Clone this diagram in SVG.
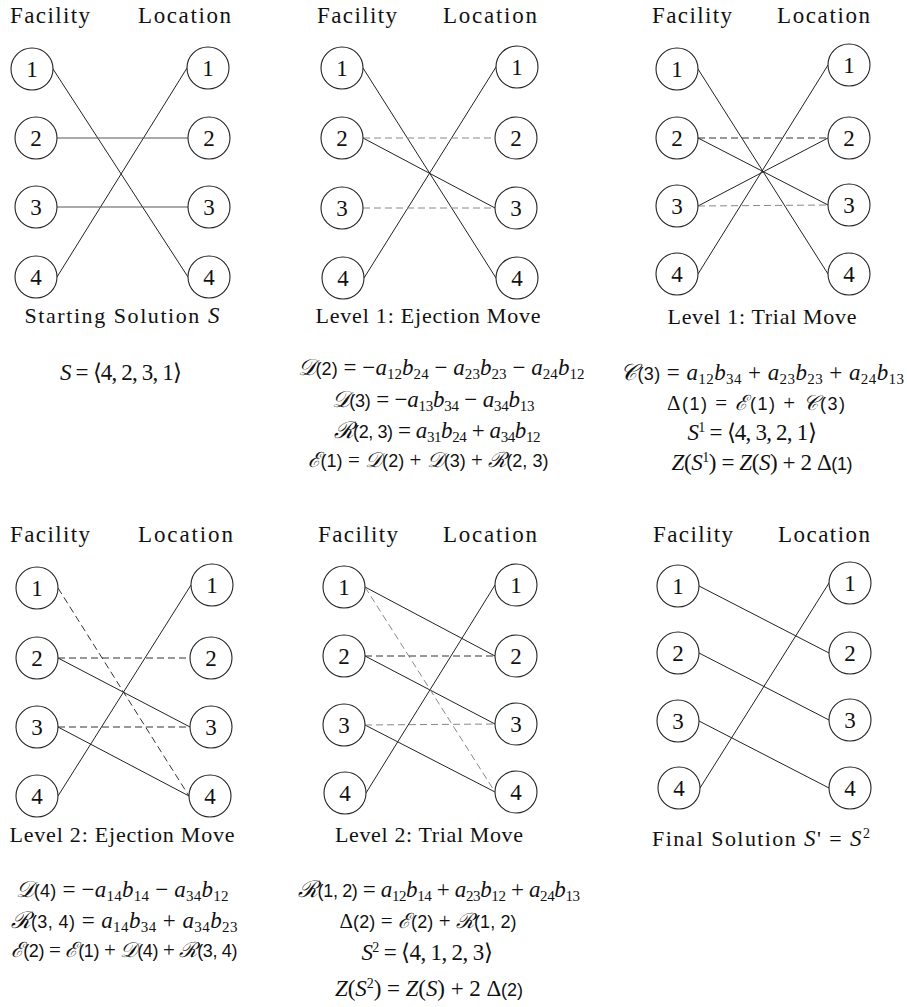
<svg xmlns="http://www.w3.org/2000/svg" width="907" height="1007" viewBox="0 0 907 1007">
<style>
.node circle{fill:#fff;stroke:#222;stroke-width:1.1}
.node text{font-family:"Liberation Serif",serif;font-size:23px;text-anchor:middle;fill:#111}
.hdr{font-family:"Liberation Serif",serif;font-size:23px;fill:#111}
.ttl{font-family:"Liberation Serif",serif;font-size:22px;fill:#111;text-anchor:middle}
.e{stroke:#222;stroke-width:1;fill:none}
.eg{stroke:#555;stroke-width:1;fill:none}
.d{stroke:#333;stroke-width:1;stroke-dasharray:7 4;fill:none}
.dg{stroke:#888;stroke-width:1;stroke-dasharray:7 4;fill:none}
.m{font-family:"Liberation Serif",serif;font-size:23px;fill:#111;text-anchor:middle}
.mc{font-size:21px}
.i{font-family:"Liberation Serif",serif;font-style:italic}
.sb{font-size:15px}
.sp{font-size:14px}
.ar{font-family:"Liberation Sans",sans-serif;font-size:18px}
.cal{font-style:italic}
</style>
<rect width="907" height="1007" fill="#fff"/>

<g id="connectors">
 <g id="c-p1">
  <line class="e" x1="53" y1="69" x2="188" y2="277"/>
  <line class="e" x1="57" y1="277" x2="187" y2="68"/>
  <line class="eg" x1="57" y1="138" x2="188" y2="138"/>
  <line class="eg" x1="57" y1="207" x2="188" y2="207"/>
 </g>
 <g id="c-p2">
  <line class="e" x1="363" y1="68" x2="496" y2="278"/>
  <line class="e" x1="364" y1="278" x2="496" y2="67"/>
  <line class="e" x1="363" y1="138" x2="495" y2="208"/>
  <line class="dg" x1="363" y1="138" x2="495" y2="138"/>
  <line class="dg" x1="363" y1="208" x2="495" y2="208"/>
 </g>
 <g id="c-p3">
  <line class="e" x1="698" y1="69" x2="828" y2="274"/>
  <line class="e" x1="698" y1="274" x2="828" y2="65"/>
  <line class="e" x1="698" y1="138" x2="828" y2="205"/>
  <line class="e" x1="698" y1="206" x2="828" y2="138"/>
  <line class="d" x1="698" y1="138" x2="828" y2="138"/>
  <line class="dg" x1="698" y1="206" x2="828" y2="205"/>
 </g>
 <g id="c-p4">
  <line class="e" x1="58" y1="796" x2="191" y2="585"/>
  <line class="e" x1="58" y1="658" x2="190" y2="727"/>
  <line class="e" x1="58" y1="727" x2="189" y2="796"/>
  <line class="d" x1="58" y1="588" x2="189" y2="796"/>
  <line class="d" x1="58" y1="658" x2="190" y2="658"/>
  <line class="d" x1="58" y1="727" x2="190" y2="727"/>
 </g>
 <g id="c-p5">
  <line class="e" x1="365" y1="587" x2="495" y2="656"/>
  <line class="e" x1="365" y1="656" x2="495" y2="724"/>
  <line class="e" x1="365" y1="725" x2="495" y2="792"/>
  <line class="e" x1="366" y1="793" x2="495" y2="585"/>
  <line class="dg" x1="365" y1="587" x2="495" y2="792"/>
  <line class="d" x1="365" y1="656" x2="495" y2="656"/>
  <line class="dg" x1="365" y1="725" x2="495" y2="724"/>
 </g>
 <g id="c-p6">
  <line class="e" x1="699" y1="586" x2="829" y2="653"/>
  <line class="e" x1="699" y1="653" x2="829" y2="720"/>
  <line class="e" x1="699" y1="721" x2="829" y2="788"/>
  <line class="e" x1="700" y1="788" x2="829" y2="583"/>
 </g>
</g>

<g id="panel1">
 <text class="hdr" x="10" y="23" textLength="80" lengthAdjust="spacing">Facility</text>
 <text class="hdr" x="138" y="23" textLength="93" lengthAdjust="spacing">Location</text>
 <g id="p1-f1" class="node"><circle cx="32" cy="69" r="21"/><text x="32" y="77">1</text></g>
 <g id="p1-f2" class="node"><circle cx="36" cy="138" r="21"/><text x="36" y="146">2</text></g>
 <g id="p1-f3" class="node"><circle cx="36" cy="207" r="21"/><text x="36" y="215">3</text></g>
 <g id="p1-f4" class="node"><circle cx="36" cy="277" r="21"/><text x="36" y="285">4</text></g>
 <g id="p1-l1" class="node"><circle cx="208" cy="68" r="21"/><text x="208" y="76">1</text></g>
 <g id="p1-l2" class="node"><circle cx="209" cy="138" r="21"/><text x="209" y="146">2</text></g>
 <g id="p1-l3" class="node"><circle cx="209" cy="207" r="21"/><text x="209" y="215">3</text></g>
 <g id="p1-l4" class="node"><circle cx="209" cy="277" r="21"/><text x="209" y="285">4</text></g>
 <text class="ttl" x="122" y="323" textLength="195" lengthAdjust="spacing">Starting Solution <tspan class="i" font-size="23">S</tspan></text>
 <text class="m" x="121" y="380" textLength="122" lengthAdjust="spacing"><tspan class="i">S</tspan> = ⟨4, 2, 3, 1⟩</text>
</g>

<g id="panel2">
 <text class="hdr" x="317" y="23" textLength="80" lengthAdjust="spacing">Facility</text>
 <text class="hdr" x="443" y="23" textLength="94" lengthAdjust="spacing">Location</text>
 <g id="p2-f1" class="node"><circle cx="342" cy="68" r="21"/><text x="342" y="76">1</text></g>
 <g id="p2-f2" class="node"><circle cx="342" cy="138" r="21"/><text x="342" y="146">2</text></g>
 <g id="p2-f3" class="node"><circle cx="342" cy="208" r="21"/><text x="342" y="216">3</text></g>
 <g id="p2-f4" class="node"><circle cx="343" cy="278" r="21"/><text x="343" y="286">4</text></g>
 <g id="p2-l1" class="node"><circle cx="517" cy="67" r="21"/><text x="517" y="75">1</text></g>
 <g id="p2-l2" class="node"><circle cx="516" cy="138" r="21"/><text x="516" y="146">2</text></g>
 <g id="p2-l3" class="node"><circle cx="516" cy="208" r="21"/><text x="516" y="216">3</text></g>
 <g id="p2-l4" class="node"><circle cx="517" cy="278" r="21"/><text x="517" y="286">4</text></g>
 <text class="ttl" x="428" y="323" textLength="225" lengthAdjust="spacing">Level 1: Ejection Move</text>
 <text class="m" x="441" y="375" textLength="287" lengthAdjust="spacing"><tspan class="cal">𝒟</tspan><tspan class="ar">(2)</tspan> = −<tspan class="i">a</tspan><tspan class="sb" dy="4">12</tspan><tspan class="i" dy="-4">b</tspan><tspan class="sb" dy="4">24</tspan><tspan dy="-4"> − </tspan><tspan class="i">a</tspan><tspan class="sb" dy="4">23</tspan><tspan class="i" dy="-4">b</tspan><tspan class="sb" dy="4">23</tspan><tspan dy="-4"> − </tspan><tspan class="i">a</tspan><tspan class="sb" dy="4">24</tspan><tspan class="i" dy="-4">b</tspan><tspan class="sb" dy="4">12</tspan></text>
 <text class="m" x="433" y="407" textLength="203" lengthAdjust="spacing"><tspan class="cal">𝒟</tspan><tspan class="ar">(3)</tspan> = −<tspan class="i">a</tspan><tspan class="sb" dy="4">13</tspan><tspan class="i" dy="-4">b</tspan><tspan class="sb" dy="4">34</tspan><tspan dy="-4"> − </tspan><tspan class="i">a</tspan><tspan class="sb" dy="4">34</tspan><tspan class="i" dy="-4">b</tspan><tspan class="sb" dy="4">13</tspan></text>
 <text class="m" x="437" y="438" textLength="207" lengthAdjust="spacing"><tspan class="cal">ℛ</tspan><tspan class="ar">(2, 3)</tspan> = <tspan class="i">a</tspan><tspan class="sb" dy="4">31</tspan><tspan class="i" dy="-4">b</tspan><tspan class="sb" dy="4">24</tspan><tspan dy="-4"> + </tspan><tspan class="i">a</tspan><tspan class="sb" dy="4">34</tspan><tspan class="i" dy="-4">b</tspan><tspan class="sb" dy="4">12</tspan></text>
 <text class="m mc" x="428" y="467" textLength="241" lengthAdjust="spacing"><tspan class="cal">ℰ</tspan><tspan class="ar">(1)</tspan> = <tspan class="cal">𝒟</tspan><tspan class="ar">(2)</tspan> + <tspan class="cal">𝒟</tspan><tspan class="ar">(3)</tspan> + <tspan class="cal">ℛ</tspan><tspan class="ar">(2, 3)</tspan></text>
</g>

<g id="panel3">
 <text class="hdr" x="652" y="23" textLength="80" lengthAdjust="spacing">Facility</text>
 <text class="hdr" x="777" y="23" textLength="93" lengthAdjust="spacing">Location</text>
 <g id="p3-f1" class="node"><circle cx="677" cy="69" r="21"/><text x="677" y="77">1</text></g>
 <g id="p3-f2" class="node"><circle cx="677" cy="138" r="21"/><text x="677" y="146">2</text></g>
 <g id="p3-f3" class="node"><circle cx="677" cy="206" r="21"/><text x="677" y="214">3</text></g>
 <g id="p3-f4" class="node"><circle cx="677" cy="274" r="21"/><text x="677" y="282">4</text></g>
 <g id="p3-l1" class="node"><circle cx="849" cy="65" r="21"/><text x="849" y="73">1</text></g>
 <g id="p3-l2" class="node"><circle cx="849" cy="138" r="21"/><text x="849" y="146">2</text></g>
 <g id="p3-l3" class="node"><circle cx="849" cy="205" r="21"/><text x="849" y="213">3</text></g>
 <g id="p3-l4" class="node"><circle cx="849" cy="274" r="21"/><text x="849" y="282">4</text></g>
 <text class="ttl" x="762" y="324" textLength="189" lengthAdjust="spacing">Level 1: Trial Move</text>
 <text class="m" x="762" y="380" textLength="284" lengthAdjust="spacing"><tspan class="cal">𝒞</tspan><tspan class="ar">(3)</tspan> = <tspan class="i">a</tspan><tspan class="sb" dy="4">12</tspan><tspan class="i" dy="-4">b</tspan><tspan class="sb" dy="4">34</tspan><tspan dy="-4"> + </tspan><tspan class="i">a</tspan><tspan class="sb" dy="4">23</tspan><tspan class="i" dy="-4">b</tspan><tspan class="sb" dy="4">23</tspan><tspan dy="-4"> + </tspan><tspan class="i">a</tspan><tspan class="sb" dy="4">24</tspan><tspan class="i" dy="-4">b</tspan><tspan class="sb" dy="4">13</tspan></text>
 <text class="m mc" x="756" y="410" textLength="178" lengthAdjust="spacing">Δ<tspan class="ar">(1)</tspan> = <tspan class="cal">ℰ</tspan><tspan class="ar">(1)</tspan> + <tspan class="cal">𝒞</tspan><tspan class="ar">(3)</tspan></text>
 <text class="m" x="752" y="440" textLength="129" lengthAdjust="spacing"><tspan class="i">S</tspan><tspan class="sp" dy="-8">1</tspan><tspan dy="8"> = ⟨4, 3, 2, 1⟩</tspan></text>
 <text class="m" x="762" y="470" textLength="181" lengthAdjust="spacing"><tspan class="i">Z</tspan>(<tspan class="i">S</tspan><tspan class="sp" dy="-8">1</tspan><tspan dy="8">) = </tspan><tspan class="i">Z</tspan>(<tspan class="i">S</tspan>) + 2 Δ<tspan class="ar">(1)</tspan></text>
</g>

<g id="panel4">
 <text class="hdr" x="10" y="542" textLength="80" lengthAdjust="spacing">Facility</text>
 <text class="hdr" x="138" y="542" textLength="95" lengthAdjust="spacing">Location</text>
 <g id="p4-f1" class="node"><circle cx="37" cy="588" r="21"/><text x="37" y="596">1</text></g>
 <g id="p4-f2" class="node"><circle cx="37" cy="658" r="21"/><text x="37" y="666">2</text></g>
 <g id="p4-f3" class="node"><circle cx="37" cy="727" r="21"/><text x="37" y="735">3</text></g>
 <g id="p4-f4" class="node"><circle cx="37" cy="796" r="21"/><text x="37" y="804">4</text></g>
 <g id="p4-l1" class="node"><circle cx="212" cy="585" r="21"/><text x="212" y="593">1</text></g>
 <g id="p4-l2" class="node"><circle cx="211" cy="658" r="21"/><text x="211" y="666">2</text></g>
 <g id="p4-l3" class="node"><circle cx="211" cy="727" r="21"/><text x="211" y="735">3</text></g>
 <g id="p4-l4" class="node"><circle cx="210" cy="796" r="21"/><text x="210" y="804">4</text></g>
 <text class="ttl" x="122" y="842" textLength="225" lengthAdjust="spacing">Level 2: Ejection Move</text>
 <text class="m" x="122" y="897" textLength="213" lengthAdjust="spacing"><tspan class="cal">𝒟</tspan><tspan class="ar">(4)</tspan> = −<tspan class="i">a</tspan><tspan class="sb" dy="4">14</tspan><tspan class="i" dy="-4">b</tspan><tspan class="sb" dy="4">14</tspan><tspan dy="-4"> − </tspan><tspan class="i">a</tspan><tspan class="sb" dy="4">34</tspan><tspan class="i" dy="-4">b</tspan><tspan class="sb" dy="4">12</tspan></text>
 <text class="m" x="124" y="928" textLength="227" lengthAdjust="spacing"><tspan class="cal">ℛ</tspan><tspan class="ar">(3, 4)</tspan> = <tspan class="i">a</tspan><tspan class="sb" dy="4">14</tspan><tspan class="i" dy="-4">b</tspan><tspan class="sb" dy="4">34</tspan><tspan dy="-4"> + </tspan><tspan class="i">a</tspan><tspan class="sb" dy="4">34</tspan><tspan class="i" dy="-4">b</tspan><tspan class="sb" dy="4">23</tspan></text>
 <text class="m mc" x="124" y="957" textLength="227" lengthAdjust="spacing"><tspan class="cal">ℰ</tspan><tspan class="ar">(2)</tspan> = <tspan class="cal">ℰ</tspan><tspan class="ar">(1)</tspan> + <tspan class="cal">𝒟</tspan><tspan class="ar">(4)</tspan> + <tspan class="cal">ℛ</tspan><tspan class="ar">(3, 4)</tspan></text>
</g>

<g id="panel5">
 <text class="hdr" x="318" y="542" textLength="80" lengthAdjust="spacing">Facility</text>
 <text class="hdr" x="443" y="542" textLength="94" lengthAdjust="spacing">Location</text>
 <g id="p5-f1" class="node"><circle cx="344" cy="587" r="21"/><text x="344" y="595">1</text></g>
 <g id="p5-f2" class="node"><circle cx="344" cy="656" r="21"/><text x="344" y="664">2</text></g>
 <g id="p5-f3" class="node"><circle cx="344" cy="725" r="21"/><text x="344" y="733">3</text></g>
 <g id="p5-f4" class="node"><circle cx="345" cy="793" r="21"/><text x="345" y="801">4</text></g>
 <g id="p5-l1" class="node"><circle cx="516" cy="585" r="21"/><text x="516" y="593">1</text></g>
 <g id="p5-l2" class="node"><circle cx="516" cy="656" r="21"/><text x="516" y="664">2</text></g>
 <g id="p5-l3" class="node"><circle cx="516" cy="724" r="21"/><text x="516" y="732">3</text></g>
 <g id="p5-l4" class="node"><circle cx="516" cy="792" r="21"/><text x="516" y="800">4</text></g>
 <text class="ttl" x="429" y="842" textLength="188" lengthAdjust="spacing">Level 2: Trial Move</text>
 <text class="m" x="439" y="897" textLength="282" lengthAdjust="spacing"><tspan class="cal">ℛ</tspan><tspan class="ar">(1, 2)</tspan> = <tspan class="i">a</tspan><tspan class="sb" dy="4">12</tspan><tspan class="i" dy="-4">b</tspan><tspan class="sb" dy="4">14</tspan><tspan dy="-4"> + </tspan><tspan class="i">a</tspan><tspan class="sb" dy="4">23</tspan><tspan class="i" dy="-4">b</tspan><tspan class="sb" dy="4">12</tspan><tspan dy="-4"> + </tspan><tspan class="i">a</tspan><tspan class="sb" dy="4">24</tspan><tspan class="i" dy="-4">b</tspan><tspan class="sb" dy="4">13</tspan></text>
 <text class="m mc" x="428" y="928" textLength="177" lengthAdjust="spacing">Δ<tspan class="ar">(2)</tspan> = <tspan class="cal">ℰ</tspan><tspan class="ar">(2)</tspan> + <tspan class="cal">ℛ</tspan><tspan class="ar">(1, 2)</tspan></text>
 <text class="m" x="427" y="960" textLength="131" lengthAdjust="spacing"><tspan class="i">S</tspan><tspan class="sp" dy="-8">2</tspan><tspan dy="8"> = ⟨4, 1, 2, 3⟩</tspan></text>
 <text class="m" x="429" y="996" textLength="188" lengthAdjust="spacing"><tspan class="i">Z</tspan>(<tspan class="i">S</tspan><tspan class="sp" dy="-8">2</tspan><tspan dy="8">) = </tspan><tspan class="i">Z</tspan>(<tspan class="i">S</tspan>) + 2 Δ<tspan class="ar">(2)</tspan></text>
</g>

<g id="panel6">
 <text class="hdr" x="653" y="542" textLength="80" lengthAdjust="spacing">Facility</text>
 <text class="hdr" x="778" y="542" textLength="92" lengthAdjust="spacing">Location</text>
 <g id="p6-f1" class="node"><circle cx="678" cy="586" r="21"/><text x="678" y="594">1</text></g>
 <g id="p6-f2" class="node"><circle cx="678" cy="653" r="21"/><text x="678" y="661">2</text></g>
 <g id="p6-f3" class="node"><circle cx="678" cy="721" r="21"/><text x="678" y="729">3</text></g>
 <g id="p6-f4" class="node"><circle cx="679" cy="788" r="21"/><text x="679" y="796">4</text></g>
 <g id="p6-l1" class="node"><circle cx="850" cy="583" r="21"/><text x="850" y="591">1</text></g>
 <g id="p6-l2" class="node"><circle cx="850" cy="653" r="21"/><text x="850" y="661">2</text></g>
 <g id="p6-l3" class="node"><circle cx="850" cy="720" r="21"/><text x="850" y="728">3</text></g>
 <g id="p6-l4" class="node"><circle cx="850" cy="788" r="21"/><text x="850" y="796">4</text></g>
 <text class="ttl" x="761" y="846" textLength="218" lengthAdjust="spacing">Final Solution  <tspan class="i" font-size="23">S</tspan><tspan>' = </tspan><tspan class="i" font-size="23">S</tspan><tspan font-size="14" dy="-8">2</tspan></text>
</g>
</svg>
